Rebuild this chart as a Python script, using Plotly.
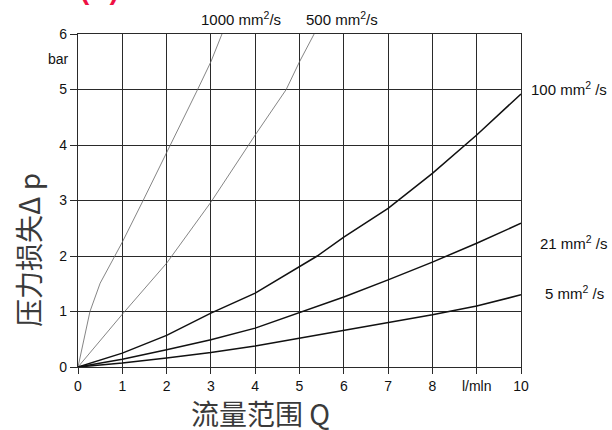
import plotly.graph_objects as go

# Flow range Q (l/min) and pressure loss Δp (bar) for each viscosity
q_1000 = [0, 0.27, 0.5, 1.0, 1.47, 2.0, 2.7, 3.0, 3.25]
p_1000 = [0, 1.0, 1.51, 2.25, 3.0, 3.85, 5.0, 5.5, 6.0]

q_500 = [0, 1, 2, 3, 4, 4.7, 5.0, 5.33]
p_500 = [0, 0.95, 1.87, 2.97, 4.18, 5.0, 5.5, 6.0]

q_100 = [0, 1, 2, 3, 4, 5, 5.4, 6, 7, 8, 9, 10]
p_100 = [0, 0.25, 0.57, 0.97, 1.33, 1.8, 2.0, 2.34, 2.86, 3.49, 4.18, 4.92]

q_21 = [0, 1, 2, 3, 4, 5, 6, 7, 8, 9, 10]
p_21 = [0, 0.14, 0.31, 0.49, 0.70, 0.98, 1.26, 1.57, 1.89, 2.23, 2.59]

q_5 = [0, 1, 2, 3, 4, 5, 6, 7, 8, 9, 10]
p_5 = [0, 0.07, 0.16, 0.26, 0.38, 0.52, 0.65, 0.79, 0.94, 1.10, 1.30]

x_ticks = [0, 1, 2, 3, 4, 5, 6, 7, 8, 9, 10]
x_tick_text = ["0", "1", "2", "3", "4", "5", "6", "7", "8", "l/mln", "10"]
y_ticks = [0, 1, 2, 3, 4, 5, 6]

fig = go.Figure()

thin = dict(color="#666666", width=0.8)
thick = dict(color="#111111", width=1.5)

for q, p, style in [
    (q_1000, p_1000, thin),
    (q_500, p_500, thin),
    (q_100, p_100, thick),
    (q_21, p_21, thick),
    (q_5, p_5, thick),
]:
    fig.add_trace(go.Scatter(x=q, y=p, mode="lines", line=style,
                             showlegend=False, hoverinfo="skip", cliponaxis=True))

label_font = dict(family="Liberation Sans, Arial, sans-serif", size=15, color="#111111")
tick_font = dict(family="Liberation Sans, Arial, sans-serif", size=14, color="#111111")
cjk_font = dict(family="Noto Sans CJK SC, sans-serif", size=28, color="#3a3a3a")

annotations = [
    dict(x=3.68, y=6.0, yshift=16, text="1000 mm<sup>2</sup>/s", showarrow=False, font=label_font),
    dict(x=5.96, y=6.0, yshift=16, text="500 mm<sup>2</sup>/s", showarrow=False, font=label_font),
    dict(x=10, y=5.02, xshift=8, text="100 mm<sup>2</sup> /s", showarrow=False,
         xanchor="left", font=label_font),
    dict(x=10, y=2.25, xshift=17, text="21 mm<sup>2</sup> /s", showarrow=False,
         xanchor="left", font=label_font),
    dict(x=10, y=1.35, xshift=22, text="5 mm<sup>2</sup> /s", showarrow=False,
         xanchor="left", font=label_font),
    dict(x=0, y=5.55, xref="x", xanchor="right", xshift=-7, text="bar", showarrow=False,
         font=tick_font),
    # axis titles
    dict(x=(260 - 78) / 443, y=0, xref="paper", yref="paper", yshift=-24, yanchor="top",
         text="流量范围 Q", showarrow=False, font=cjk_font),
    dict(x=0, y=(367 - 250) / 333, xref="paper", yref="paper", xshift=-72,
         text="压力损失Δ p", textangle=-90, showarrow=False, font=cjk_font),
    # red caption running off the top edge
    dict(x=0.0, y=1.0, xref="paper", yref="paper", yshift=27, xanchor="left", yanchor="bottom",
         text="<b>(A)</b>", showarrow=False,
         font=dict(family="Liberation Sans, Arial, sans-serif", size=28, color="#ee1144")),
]

grid_color = "#2a2a2a"

fig.update_layout(
    width=612,
    height=430,
    margin=dict(l=78, r=91, t=34, b=63),
    paper_bgcolor="white",
    plot_bgcolor="white",
    annotations=annotations,
    xaxis=dict(
        range=[0, 10],
        tickvals=x_ticks,
        ticktext=x_tick_text,
        showgrid=True,
        gridcolor=grid_color,
        gridwidth=1.3,
        zeroline=False,
        showline=True,
        linecolor=grid_color,
        linewidth=1.3,
        mirror=True,
        ticks="outside",
        ticklen=6,
        tickcolor=grid_color,
        tickfont=tick_font,
    ),
    yaxis=dict(
        range=[0, 6],
        tickvals=y_ticks,
        showgrid=True,
        gridcolor=grid_color,
        gridwidth=1.3,
        zeroline=False,
        showline=True,
        linecolor=grid_color,
        linewidth=1.3,
        mirror=True,
        ticks="outside",
        ticklen=7,
        tickcolor=grid_color,
        tickfont=tick_font,
    ),
)

fig.write_html("out.html")
